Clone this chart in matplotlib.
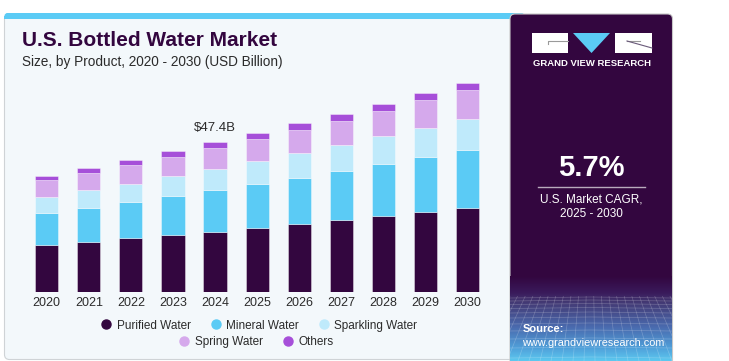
import numpy as np
import matplotlib
matplotlib.use('Agg')
import matplotlib.pyplot as plt
from matplotlib.patches import FancyBboxPatch, Rectangle, Polygon
from matplotlib.lines import Line2D
from matplotlib.colors import LinearSegmentedColormap

plt.rcParams['font.family'] = ['Liberation Sans', 'DejaVu Sans']

#_______________________________________________________________________________
# DATA (USD Billion)
years = ['2020', '2021', '2022', '2023', '2024', '2025', '2026', '2027', '2028', '2029', '2030']
purified = [14.8, 15.8, 17.0, 18.0, 19.0, 20.3, 21.5, 22.7, 24.0, 25.4, 26.7]
mineral = [10.2, 10.9, 11.4, 12.4, 13.2, 13.9, 14.7, 15.6, 16.5, 17.4, 18.3]
sparkling = [5.0, 5.6, 5.9, 6.3, 6.7, 7.3, 7.8, 8.2, 8.8, 9.3, 9.9]
spring = [5.3, 5.5, 5.9, 6.1, 6.6, 6.9, 7.2, 7.8, 8.1, 8.6, 9.0]
others = [1.5, 1.6, 1.6, 1.8, 1.9, 2.0, 2.2, 2.1, 2.2, 2.3, 2.4]
segments = ['Purified Water', 'Mineral Water', 'Sparkling Water', 'Spring Water', 'Others']
colors = ['#33063f', '#5bcbf5', '#bfeafb', '#d5a9ec', '#a64fd9']
label_year = '2024'
label_text = '$47.4B'
cagr = '5.7%'

#_______________________________________________________________________________
# FIGURE + BACKGROUND (pixel coords)
W, H = 729, 361
fig = plt.figure(figsize=(W / 100, H / 100), dpi=100)
fig.patch.set_facecolor('white')
bg = fig.add_axes([0, 0, 1, 1], zorder=0)
bg.set_xlim(0, W)
bg.set_ylim(H, 0)
bg.axis('off')

# left light panel
bg.add_patch(FancyBboxPatch((4.5, 14), 520, 345.5, boxstyle='round,pad=0,rounding_size=5',
                            fc='#f3f8fb', ec='#cfd3d6', lw=0.8))
bg.add_patch(FancyBboxPatch((4.5, 13), 520, 5.5, boxstyle='round,pad=0,rounding_size=3',
                            fc='#5bcbf5', ec='none'))
bg.add_patch(Rectangle((4.5, 16), 520, 2.5, fc='#5bcbf5', ec='none'))

# right dark panel
bg.add_patch(FancyBboxPatch((510, 14), 162.5, 360, boxstyle='round,pad=0,rounding_size=5',
                            fc='#33063f', ec='#c8c8c8', lw=0.8))

# gradient at bottom of right panel
cmap = LinearSegmentedColormap.from_list('gvr', [(0, '#33063f'), (0.2, '#3a1b5c'), (0.3, '#433872'),
                                                 (0.6, '#4a6aae'), (0.85, '#50a0da'), (1, '#5cc8ef')])
grad = np.linspace(0, 1, 200).reshape(-1, 1)
bg.imshow(grad, cmap=cmap, aspect='auto', extent=(510, 672, 361, 276), zorder=1)
clip = Rectangle((510, 296), 162, 65, transform=bg.transData)
for i, yy in enumerate([297, 300, 303.5, 307.5, 312, 317, 323, 330, 338, 347, 357]):
    ln, = bg.plot([510, 591, 672], [yy + 1, yy, yy + 1], color='white', lw=0.5, alpha=0.22, zorder=2)
    ln.set_clip_path(clip)
for xb in np.arange(430, 760, 11):
    ln, = bg.plot([591, xb], [150, 361], color='white', lw=0.5, alpha=0.22, zorder=2)
    ln.set_clip_path(clip)

# logo
bg.add_patch(Rectangle((532, 33), 36, 20, fc='white', ec='none', zorder=3))
bg.plot([548, 548, 568], [44, 41, 41], color='#9a9a9a', lw=0.8, zorder=4)
bg.add_patch(Polygon([(573, 33), (610, 33), (591.5, 53)], closed=True, fc='#5bcbf5', ec='none', zorder=3))
bg.add_patch(Rectangle((615, 33), 37, 20, fc='white', ec='none', zorder=3))
bg.plot([627, 640], [41, 41], color='#9a9a9a', lw=0.8, zorder=4)
bg.plot([627, 652], [41, 48], color='#6a5a7a', lw=0.8, zorder=4)
bg.text(592, 63, 'GRAND VIEW RESEARCH', color='white', fontsize=6.8, fontweight='bold',
        ha='center', va='center', zorder=4)

# CAGR block
bg.text(591.5, 168, cagr, color='white', fontsize=21, fontweight='bold', ha='center', va='center')
bg.plot([538, 645], [187, 187], color='#b9aabd', lw=1)
bg.text(591.5, 200, 'U.S. Market CAGR,', color='white', fontsize=8.5, ha='center', va='center')
bg.text(591.5, 214, '2025 - 2030', color='white', fontsize=8.5, ha='center', va='center')
bg.text(523, 329, 'Source:', color='white', fontsize=8, fontweight='bold', ha='left', va='center', zorder=4)
bg.text(522, 343, 'www.grandviewresearch.com', color='white', fontsize=7.8, ha='left', va='center', zorder=4)

# titles
bg.text(22, 41, 'U.S. Bottled Water Market', color='#33063f', fontsize=15, fontweight='bold',
        ha='left', va='center')
bg.text(22, 62, 'Size, by Product, 2020 - 2030 (USD Billion)', color='#2b2b2b', fontsize=9.8,
        ha='left', va='center')

#_______________________________________________________________________________
# STACKED BARS
ax = fig.add_axes([0.0295, 0.192, 0.6464, 0.611], zorder=2)
ax.patch.set_alpha(0)
x = np.arange(len(years))
bottom = np.zeros(len(years))
for name, vals, c in zip(segments, [purified, mineral, sparkling, spring, others], colors):
    ax.bar(x, vals, 0.55, bottom=bottom, color=c, edgecolor=(1, 1, 1, 0.45), linewidth=0.6, label=name)
    bottom += np.array(vals)

i = years.index(label_year)
ax.text(x[i], bottom[i] + 2.6, label_text, ha='center', va='bottom', fontsize=9.5, color='#2b2b2b')

ax.set_xlim(-0.6, 10.6)
ax.set_ylim(0, 70)
ax.set_xticks(x)
ax.set_xticklabels(years, fontsize=9, color='#2b2b2b')
ax.tick_params(axis='x', length=0, pad=4)
ax.set_yticks([])
for s in ax.spines.values():
    s.set_visible(False)

# legend in two centred rows
handles = [Line2D([], [], marker='o', ls='none', ms=6.5, mfc=c, mec=c) for c in colors]
kw = dict(frameon=False, fontsize=8.5, handlelength=1, handletextpad=0.4, columnspacing=1.6,
          loc='center', bbox_transform=fig.transFigure, labelcolor='#2b2b2b')
leg1 = fig.legend(handles[:3], segments[:3], ncol=3, bbox_to_anchor=(0.355, 0.098), **kw)
leg2 = fig.legend(handles[3:], segments[3:], ncol=2, bbox_to_anchor=(0.351, 0.052), **kw)

plt.savefig('out.png', dpi=100)
